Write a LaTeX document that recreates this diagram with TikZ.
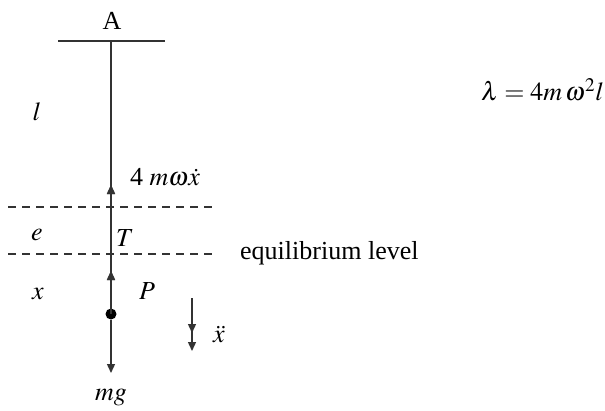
\documentclass[tikz,border=0pt]{standalone}
\usepackage{mathptmx}
\usepackage{fontspec}
\setmainfont{Liberation Serif}
\usetikzlibrary{arrows.meta,decorations.markings}
\begin{document}
\begin{tikzpicture}[x=1pt,y=-1pt,
  every node/.style={font=\fontsize{26}{30}\selectfont, inner sep=0pt},
  rod/.style={line width=1.4pt, black!80},
  tipstyle/.style={-{Triangle[length=9pt,width=8pt]}},
  dashline/.style={line width=1.1pt, black!80, dash pattern=on 8pt off 6pt},
  dot/.style={circle, fill=black, minimum size=11pt, inner sep=0pt},
  upmark/.style={postaction={decorate}, decoration={markings,
     mark=at position #1 with {\arrow{Triangle[length=9pt,width=8pt]}}}}
]
\useasboundingbox (0,0) rectangle (605,410);
% support
\coordinate (barL) at (58,41);
\coordinate (barR) at (165,41);
\coordinate (top) at (111,41);
\draw[rod] (barL) -- (barR);
\node (A) at (112,21) {A};
% mass
\node[dot] (P) at (111,314) {};
\coordinate (Pc) at (111,314);
\coordinate (tip) at (111,373);
\draw[rod, upmark=43pt, decoration={markings, mark=at position 129pt with {\arrow{Triangle[length=9pt,width=8pt]}}}, postaction={decorate}] (Pc) -- (top);
\draw[rod, tipstyle] (P) -- (tip);
% dashed lines
\coordinate (d1L) at (8,207);
\coordinate (d1R) at (216,207);
\coordinate (d2L) at (8,254);
\coordinate (d2R) at (216,254);
\draw[dashline] (d1L) -- (d1R);
\draw[dashline] (d2L) -- (d2R);
% labels
\node (l) at (37,112) {$l$};
\node[anchor=west] (damp) at (130,177) {4 $m\omega\dot{x}$};
\node (e) at (37,235) {$e$};
\node (T) at (125,238) {$T$};
\node[anchor=west] (eq) at (240,253) {equilibrium level};
\node (x) at (38,294) {$x$};
\node (Plab) at (147,291) {$P$};
\node (mg) at (111,397) {$mg$};
\node[anchor=east] (lam) at (604,90) {$\lambda = 4m\,\omega^2 l$};
% acceleration arrow
\coordinate (xa1) at (192,298);
\coordinate (xa2) at (192,351);
\draw[rod, tipstyle, decoration={markings, mark=at position 35pt with {\arrow{Triangle[length=9pt,width=8pt]}}}, postaction={decorate}] (xa1) -- (xa2);
\node (xdd) at (219,334) {$\ddot{x}$};
\end{tikzpicture}
\end{document}
